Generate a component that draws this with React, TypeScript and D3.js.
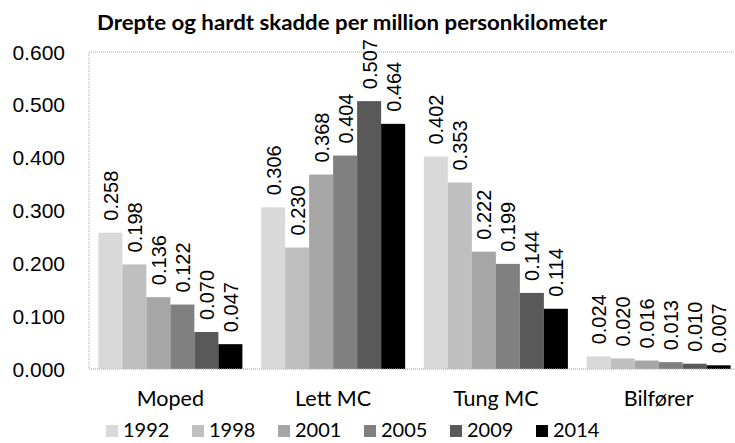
import React from "react";
import * as d3 from "d3";

const categories = ["Moped", "Lett MC", "Tung MC", "Bilfører"];
const years = ["1992", "1998", "2001", "2005", "2009", "2014"];
const values1992 = [0.258, 0.306, 0.402, 0.024];
const values1998 = [0.198, 0.23, 0.353, 0.02];
const values2001 = [0.136, 0.368, 0.222, 0.016];
const values2005 = [0.122, 0.404, 0.199, 0.013];
const values2009 = [0.07, 0.507, 0.144, 0.01];
const values2014 = [0.047, 0.464, 0.114, 0.007];
const yTicks = [0, 0.1, 0.2, 0.3, 0.4, 0.5, 0.6];
const colors = ["#d9d9d9", "#bfbfbf", "#a6a6a6", "#808080", "#595959", "#000000"];

const series = [values1992, values1998, values2001, values2005, values2009, values2014];

const W = 735;
const H = 443;
const left = 89;
const right = 740;
const top = 52;
const bottom = 369;

const App = () => {
  const x0 = d3.scaleBand().domain(categories).range([left, right]);
  const x1 = d3
    .scaleBand()
    .domain(years)
    .range([0, x0.bandwidth()])
    .paddingOuter(0.39);
  const y = d3.scaleLinear().domain([0, 0.6]).range([bottom, top]);
  const fmt = d3.format(".3f");

  return (
    <svg
      width={W}
      height={H}
      style={{ position: "absolute", left: 0, top: 0, background: "#fff" }}
    >
      <text
        x={97}
        y={30}
        fontFamily="Lato"
        fontWeight="bold"
        fontSize={21}
        textLength={510}
        lengthAdjust="spacingAndGlyphs"
        fill="#000"
      >
        Drepte og hardt skadde per million personkilometer
      </text>

      {/* plot area border */}
      <rect
        x={left}
        y={top}
        width={right - left}
        height={bottom - top}
        fill="none"
        stroke="#a6a6a6"
        strokeDasharray="1,1"
      />

      {yTicks.map((t) => (
        <text
          key={t}
          x={65}
          y={y(t) + 7.5}
          textAnchor="end"
          fontFamily="Liberation Sans"
          fontSize={21}
        >
          {fmt(t)}
        </text>
      ))}

      {categories.map((c, ci) => (
        <g key={c}>
          {series.map((vals, si) => {
            const bx = (x0(c) ?? 0) + (x1(years[si]) ?? 0);
            const by = y(vals[ci]);
            const cx = bx + x1.bandwidth() / 2;
            return (
              <g key={years[si]}>
                <rect
                  x={bx}
                  y={by}
                  width={x1.bandwidth()}
                  height={bottom - by}
                  fill={colors[si]}
                />
                <text
                  transform={`translate(${cx + 7.5},${by - 12}) rotate(-90)`}
                  fontFamily="Liberation Sans"
                  fontSize={20}
                >
                  {fmt(vals[ci])}
                </text>
              </g>
            );
          })}
          <text
            x={(x0(c) ?? 0) + x0.bandwidth() / 2}
            y={406}
            textAnchor="middle"
            fontFamily="Lato"
            fontSize={21.5}
          >
            {c}
          </text>
        </g>
      ))}

      <line
        x1={left}
        x2={right}
        y1={bottom}
        y2={bottom}
        stroke="#bfbfbf"
        strokeDasharray="1,1"
      />

      {years.map((yr, i) => (
        <g key={yr} transform={`translate(${106 + i * 86},425)`}>
          <rect width={12} height={12} fill={colors[i]} />
          <text x={17} y={12} fontFamily="Lato" fontSize={20}>
            {yr}
          </text>
        </g>
      ))}
    </svg>
  );
};

export default App;
